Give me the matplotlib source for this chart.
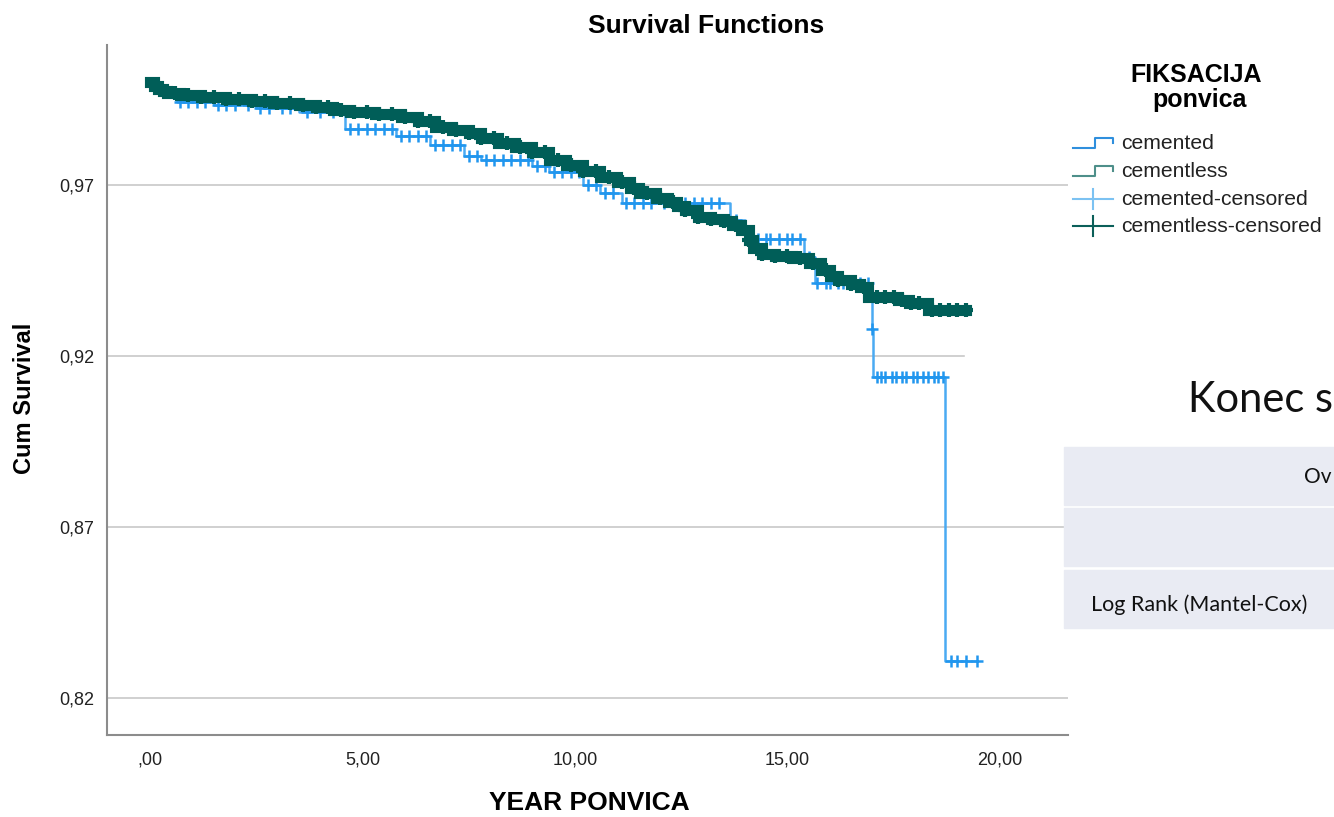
import numpy as np
import matplotlib.pyplot as plt
from matplotlib.patches import Rectangle

plt.rcParams['font.family'] = ['Liberation Sans', 'DejaVu Sans']

# Kaplan-Meier steps (time in years, cum survival)
cementless_t = [0.0, 0.1, 0.2, 0.3, 0.4, 0.7, 1.2, 1.8, 2.4, 2.9, 3.5, 3.9, 4.3, 4.7,
                5.3, 5.9, 6.3, 6.7, 7.1, 7.5, 7.8, 8.2, 8.6, 9.0, 9.4, 9.8, 10.2,
                10.6, 11.0, 11.3, 11.5, 11.9, 12.2, 12.4, 12.6, 12.9, 13.2, 13.5,
                13.7, 13.9, 14.1, 14.2, 14.4, 14.7, 15.1, 15.5, 15.8, 16.0, 16.2,
                16.5, 16.7, 16.9, 17.6, 17.85, 18.3]
cementless_s = [1.0, 0.9988, 0.9980, 0.9974, 0.9968, 0.9963, 0.9957, 0.9951, 0.9945,
                0.9940, 0.9934, 0.9928, 0.9919, 0.9913, 0.9907, 0.9899, 0.9887,
                0.9869, 0.9861, 0.9852, 0.9837, 0.9823, 0.9811, 0.9796, 0.9773,
                0.9758, 0.9741, 0.9723, 0.9709, 0.9691, 0.9677, 0.9662, 0.9650,
                0.9639, 0.9627, 0.9607, 0.9601, 0.9595, 0.9583, 0.9569, 0.9539,
                0.9516, 0.9498, 0.9493, 0.9487, 0.9472, 0.9452, 0.9434, 0.9422,
                0.9411, 0.9402, 0.9373, 0.9364, 0.9355, 0.9335]
cementless_end = 19.2

cemented_t = [0.0, 0.24, 0.64, 1.5, 2.5, 3.5, 4.6, 5.8, 6.6, 7.4, 7.8, 9.0, 9.4,
              10.2, 10.6, 11.1, 13.65, 14.0, 15.4, 15.65, 16.99, 17.02, 18.71]
cemented_s = [1.0, 0.9963, 0.9942, 0.9933, 0.9925, 0.9913, 0.9863, 0.9843, 0.9817,
              0.9785, 0.9773, 0.9755, 0.9737, 0.9700, 0.9677, 0.9648, 0.9598,
              0.9542, 0.9490, 0.9414, 0.9279, 0.9139, 0.8309]
cemented_end = 19.45

cemented_cens = [0.7, 0.9, 1.1, 1.3, 1.6, 1.8, 2.0, 2.3, 2.6, 2.8, 3.1, 3.3, 3.7, 4.0,
                 4.3, 4.7, 4.9, 5.1, 5.3, 5.5, 5.7, 5.9, 6.1, 6.3, 6.5, 6.7, 6.9, 7.1,
                 7.3, 7.5, 7.7, 7.9, 8.1, 8.3, 8.5, 8.7, 8.9, 9.1, 9.3, 9.5, 9.7, 9.9,
                 10.1, 10.3, 10.5, 10.7, 10.9, 11.2, 11.4, 11.6, 11.8, 12.1, 12.3,
                 12.6, 12.8, 13.0, 13.2, 13.4, 13.8, 14.1, 14.3, 14.5, 14.6, 14.8,
                 15.0, 15.1, 15.3, 15.5, 15.7, 15.9, 16.0, 16.2, 16.3, 16.5, 16.7,
                 16.9, 17.0, 17.1, 17.2, 17.3, 17.45, 17.55, 17.7, 17.8, 17.95, 18.05,
                 18.2, 18.3, 18.45, 18.55, 18.65, 18.85, 19.0, 19.2, 19.45]
cementless_cens = [0.15, 0.35, 0.6, 0.9, 1.2, 1.5, 1.8, 2.1, 2.4, 2.7, 3.0, 3.3, 3.6,
                   3.9, 4.2, 4.5, 4.8, 5.1, 5.4, 5.7, 6.0, 6.3, 6.6, 6.9, 7.2, 7.5,
                   7.8, 8.1, 8.4, 8.7, 9.0, 9.3, 9.6, 9.9, 10.2, 10.5, 10.8, 11.1,
                   11.4, 11.7, 12.0, 12.3, 12.6, 12.9, 13.2, 13.5, 13.8, 14.1, 14.4,
                   14.7, 15.0, 15.3, 15.6, 15.9, 16.2, 16.5, 16.8, 17.1, 17.3, 17.5,
                   17.7, 17.9, 18.1, 18.4, 18.6, 18.8, 19.0, 19.2]

y_ticks = [0.82, 0.87, 0.92, 0.97]
y_labels = ['0,82', '0,87', '0,92', '0,97']
x_ticks = [0, 5, 10, 15, 20]
x_labels = [',00', '5,00', '10,00', '15,00', '20,00']

c_blue = '#4AAAF2'
c_blue_cens = '#2196EE'
c_teal = '#005E58'


def level(times, surv, at):
    idx = np.searchsorted(times, at, side='right') - 1
    return np.asarray(surv)[idx]


fig = plt.figure(figsize=(13.34, 8.17), dpi=100)
ax = fig.add_axes([107 / 1334, 1 - 735 / 817, (1068 - 107) / 1334, (735 - 45) / 817])

ax.step(cemented_t + [cemented_end], cemented_s + [cemented_s[-1]], where='post',
        color=c_blue, lw=1.8, zorder=3)
ax.plot(cemented_cens, level(cemented_t, cemented_s, cemented_cens), ls='none',
        marker='+', ms=8, mew=1.8, color=c_blue_cens, zorder=4)
ax.step(cementless_t + [cementless_end], cementless_s + [cementless_s[-1]], where='post',
        color=c_teal, lw=8, zorder=5, solid_joinstyle='miter')
ax.plot(cementless_cens, level(cementless_t, cementless_s, cementless_cens), ls='none',
        marker='+', ms=10, mew=3, color=c_teal, zorder=6)

ax.set_xlim(-1.01, 21.6)
ax.set_ylim(0.8093, 1.0109)
ax.set_yticks(y_ticks)
ax.set_yticklabels(y_labels)
ax.set_xticks(x_ticks)
ax.set_xticklabels(x_labels)
ax.tick_params(length=0, labelsize=13, colors='#222222')
ax.tick_params(axis='y', pad=9)
ax.tick_params(axis='x', pad=12)
ax.grid(axis='y', color='#c8c8c8', lw=1.2)
ax.set_axisbelow(True)
for s in ['top', 'right']:
    ax.spines[s].set_visible(False)
for s in ['left', 'bottom']:
    ax.spines[s].set_color('#8c8c8c')
    ax.spines[s].set_linewidth(1.5)

# overlay in pixel coordinates for titles, legend and slide pieces
ov = fig.add_axes([0, 0, 1, 1], zorder=10)
ov.set_xlim(0, 1334)
ov.set_ylim(817, 0)
ov.axis('off')
ov.patch.set_alpha(0)

ov.text(706, 26, 'Survival Functions', fontsize=19, fontweight='bold', ha='center', va='center')
ov.text(589, 803, 'YEAR PONVICA', fontsize=19, fontweight='bold', ha='center', va='center')
ov.text(25, 398, 'Cum Survival', fontsize=17, fontweight='bold', ha='center', va='center',
        rotation=90)

# legend
ov.text(1196, 75, 'FIKSACIJA', fontsize=18, fontweight='bold', ha='center', va='center')
ov.text(1200, 100, 'ponvica', fontsize=18, fontweight='bold', ha='center', va='center')
legend_names = ['cemented', 'cementless', 'cemented-censored', 'cementless-censored']
legend_rows = [143, 171, 199, 226]
ov.plot([1073, 1095, 1095, 1113, 1113], [148, 148, 138, 138, 143], color='#2F8FDD', lw=1.5)
ov.plot([1073, 1095, 1095, 1113, 1113], [176, 176, 166, 166, 171], color='#4E8F8A', lw=1.5)
ov.plot([1073, 1113], [199, 199], color='#7CC2F2', lw=1.5)
ov.plot([1093, 1093], [189, 209], color='#7CC2F2', lw=1.5)
ov.plot([1073, 1113], [226, 226], color='#0B5F59', lw=1.5)
ov.plot([1093, 1093], [216, 236], color='#0B5F59', lw=1.5)
for name, yy in zip(legend_names, legend_rows):
    ov.text(1121, yy, name, fontsize=15.2, ha='left', va='center', color='#222222')

# pieces of the slide lying over the chart
ov.add_patch(Rectangle((965, 330), 369, 105, color='white', zorder=1))
ov.text(1188, 400, 'Konec s', fontsize=30, family=['Lato', 'DejaVu Sans'],
        ha='left', va='center', color='#111111', zorder=2)
for top in [447, 508, 570]:
    ov.add_patch(Rectangle((1064, top), 280, 58, color='#E9EBF3', zorder=1))
ov.text(1304, 477, 'Ov', fontsize=15, family=['Lato', 'DejaVu Sans'],
        ha='left', va='center', color='#111111', zorder=2)
ov.text(1199, 605, 'Log Rank (Mantel-Cox)', fontsize=15.5, family=['Lato', 'DejaVu Sans'],
        ha='center', va='center', color='#111111', zorder=2)

fig.savefig('out.png', dpi=100)
